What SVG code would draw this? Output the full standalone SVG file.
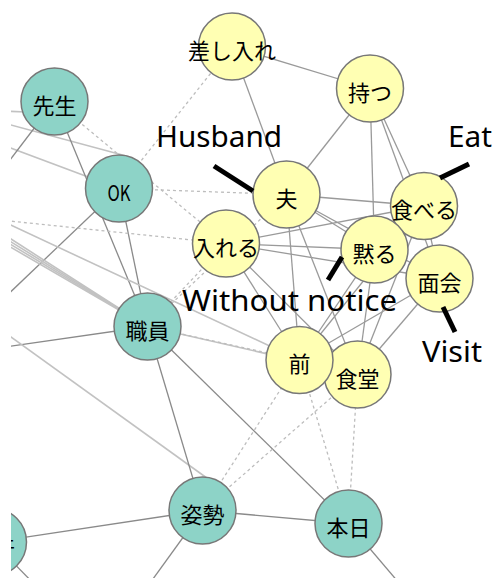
<svg xmlns="http://www.w3.org/2000/svg" width="493" height="578" viewBox="0 0 493 578">
<defs>
<style>
.e{stroke:#9a9a9a;stroke-width:1.3;fill:none}
.ek{stroke:#8a8a8a;stroke-width:1.3;fill:none}
.el{stroke:#c2c2c2;stroke-width:1.6;fill:none}
.ed{stroke:#bdbdbd;stroke-width:1.3;fill:none;stroke-dasharray:3 3}
.t circle{fill:#8dd3c7;stroke:#777;stroke-width:1.5}
.y circle{fill:#ffffb3;stroke:#777;stroke-width:1.5}
.n text{font-family:"Noto Sans CJK JP",sans-serif;font-size:22px;text-anchor:middle;fill:#000}
.lab{font-family:"Noto Sans","Open Sans",sans-serif;font-size:29px;fill:#000}
.ptr{stroke:#000;stroke-width:5}
</style>
<clipPath id="clip"><rect x="11" y="0" width="482" height="578"/></clipPath>
</defs>
<rect width="493" height="578" fill="#fff"/>
<g clip-path="url(#clip)">
<g id="connectors">
<line class="el" x1="0" y1="111" x2="26" y2="112"/>
<line class="el" x1="0" y1="122" x2="130" y2="157"/>
<line class="el" x1="0" y1="144" x2="119" y2="188.5"/>
<line class="ek" x1="54.5" y1="101.5" x2="0" y2="173"/>
<line class="ek" x1="119" y1="188.5" x2="0" y2="302"/>
<line class="ek" x1="54.5" y1="101.5" x2="147.5" y2="326.5"/>
<line class="ek" x1="119" y1="188.5" x2="147.5" y2="326.5"/>
<line class="ed" x1="0" y1="220" x2="226" y2="243.5"/>
<line class="el" x1="0" y1="232" x2="147.5" y2="326.5"/>
<line class="el" x1="0" y1="235" x2="147.5" y2="326.5"/>
<line class="el" x1="0" y1="238" x2="147.5" y2="326.5"/>
<line class="el" x1="0" y1="241" x2="147.5" y2="326.5"/>
<line class="el" x1="0" y1="220" x2="299.5" y2="360"/>
<line class="ek" x1="0" y1="347.7" x2="147.5" y2="326.5"/>
<line class="el" x1="0" y1="329" x2="211" y2="481"/>
<line class="el" x1="147.5" y1="326.5" x2="357.5" y2="374.5"/>
<line class="ed" x1="147.5" y1="326.5" x2="299.5" y2="360"/>
<line class="ek" x1="147.5" y1="326.5" x2="202.5" y2="510.5"/>
<line class="ek" x1="147.5" y1="326.5" x2="348.5" y2="523.5"/>
<line class="ek" x1="202.5" y1="510.5" x2="348.5" y2="523.5"/>
<line class="ek" x1="202.5" y1="510.5" x2="-7" y2="542"/>
<line class="ek" x1="202.5" y1="510.5" x2="145" y2="590"/>
<line class="ek" x1="348.5" y1="523.5" x2="405" y2="590"/>
<line class="ek" x1="-7" y1="542" x2="40" y2="590"/>
<line class="ed" x1="54.5" y1="101.5" x2="226" y2="243.5"/>
<line class="ed" x1="119" y1="188.5" x2="232" y2="46.5"/>
<line class="ed" x1="119" y1="188.5" x2="286.5" y2="194.5"/>
<line class="ed" x1="286.5" y1="194.5" x2="147.5" y2="326.5"/>
<line class="ed" x1="226" y1="243.5" x2="147.5" y2="326.5"/>
<line class="ed" x1="202.5" y1="510.5" x2="299.5" y2="360"/>
<line class="ed" x1="202.5" y1="510.5" x2="357.5" y2="374.5"/>
<line class="ed" x1="348.5" y1="523.5" x2="299.5" y2="360"/>
<line class="ed" x1="348.5" y1="523.5" x2="357.5" y2="374.5"/>
<line class="e" x1="232" y1="46.5" x2="370" y2="88.5"/>
<line class="e" x1="232" y1="46.5" x2="286.5" y2="194.5"/>
<line class="e" x1="370" y1="88.5" x2="286.5" y2="194.5"/>
<line class="e" x1="370" y1="88.5" x2="374.5" y2="249.5"/>
<line class="e" x1="370" y1="88.5" x2="424" y2="206"/>
<line class="e" x1="370" y1="88.5" x2="439.5" y2="278.5"/>
<line class="e" x1="286.5" y1="194.5" x2="424" y2="206"/>
<line class="e" x1="226" y1="243.5" x2="424" y2="206"/>
<line class="e" x1="286.5" y1="194.5" x2="374.5" y2="249.5"/>
<line class="e" x1="286.5" y1="194.5" x2="439.5" y2="278.5"/>
<line class="e" x1="226" y1="243.5" x2="374.5" y2="249.5"/>
<line class="e" x1="226" y1="243.5" x2="439.5" y2="278.5"/>
<line class="e" x1="286.5" y1="194.5" x2="299.5" y2="360"/>
<line class="e" x1="286.5" y1="194.5" x2="357.5" y2="374.5"/>
<line class="e" x1="226" y1="243.5" x2="299.5" y2="360"/>
<line class="e" x1="226" y1="243.5" x2="357.5" y2="374.5"/>
<line class="e" x1="374.5" y1="249.5" x2="299.5" y2="360"/>
<line class="e" x1="374.5" y1="249.5" x2="357.5" y2="374.5"/>
<line class="e" x1="424" y1="206" x2="299.5" y2="360"/>
<line class="e" x1="424" y1="206" x2="357.5" y2="374.5"/>
<line class="e" x1="439.5" y1="278.5" x2="299.5" y2="360"/>
<line class="e" x1="439.5" y1="278.5" x2="357.5" y2="374.5"/>
<line class="e" x1="424" y1="206" x2="439.5" y2="278.5"/>
</g>
<g id="nodes" class="n">
<g id="n-sensei" class="t"><circle cx="54.5" cy="101.5" r="33.5"/><text x="54.5" y="113.5">先生</text></g>
<g id="n-sashiire" class="y"><circle cx="232" cy="46.5" r="33.5"/><text x="232" y="58.5">差し入れ</text></g>
<g id="n-motsu" class="y"><circle cx="370" cy="88.5" r="33.5"/><text x="370" y="100.5">持つ</text></g>
<g id="n-ok" class="t"><circle cx="119" cy="188.5" r="33.5"/><text x="119" y="200.5" textLength="23" lengthAdjust="spacingAndGlyphs">OK</text></g>
<g id="n-otto" class="y"><circle cx="286.5" cy="194.5" r="33.5"/><text x="286.5" y="206.5">夫</text></g>
<g id="n-taberu" class="y"><circle cx="424" cy="206" r="33.5"/><text x="424" y="218">食べる</text></g>
<g id="n-ireru" class="y"><circle cx="226" cy="243.5" r="33.5"/><text x="226" y="255.5">入れる</text></g>
<g id="n-damaru" class="y"><circle cx="374.5" cy="249.5" r="33.5"/><text x="374.5" y="261.5">黙る</text></g>
<g id="n-menkai" class="y"><circle cx="439.5" cy="278.5" r="33.5"/><text x="439.5" y="290.5">面会</text></g>
<g id="n-shokudo" class="y"><circle cx="357.5" cy="374.5" r="33.5"/><text x="357.5" y="386.5">食堂</text></g>
<g id="n-mae" class="y"><circle cx="299.5" cy="360" r="33.5"/><text x="299.5" y="372">前</text></g>
<g id="n-shokuin" class="t"><circle cx="147.5" cy="326.5" r="33.5"/><text x="147.5" y="338.5">職員</text></g>
<g id="n-shisei" class="t"><circle cx="202.5" cy="510.5" r="33.5"/><text x="202.5" y="522.5">姿勢</text></g>
<g id="n-honjitsu" class="t"><circle cx="348.5" cy="523.5" r="33.5"/><text x="348.5" y="535.5">本日</text></g>
<g id="n-edge" class="t"><circle cx="-7" cy="542" r="33.5"/><text x="-7" y="554">事件</text></g>
</g>
</g>
<g id="labels">
<line class="ptr" x1="214" y1="166" x2="253" y2="191"/>
<line class="ptr" x1="469" y1="164" x2="440" y2="178"/>
<line class="ptr" x1="342" y1="257" x2="328" y2="280"/>
<line class="ptr" x1="443" y1="307" x2="455" y2="332"/>
<text class="lab" x="156" y="147" textLength="126" lengthAdjust="spacingAndGlyphs">Husband</text>
<text class="lab" x="448" y="147" textLength="44" lengthAdjust="spacingAndGlyphs">Eat</text>
<text class="lab" x="182" y="311" textLength="215" lengthAdjust="spacingAndGlyphs">Without notice</text>
<text class="lab" x="422" y="362" textLength="60" lengthAdjust="spacingAndGlyphs">Visit</text>
</g>
</svg>
